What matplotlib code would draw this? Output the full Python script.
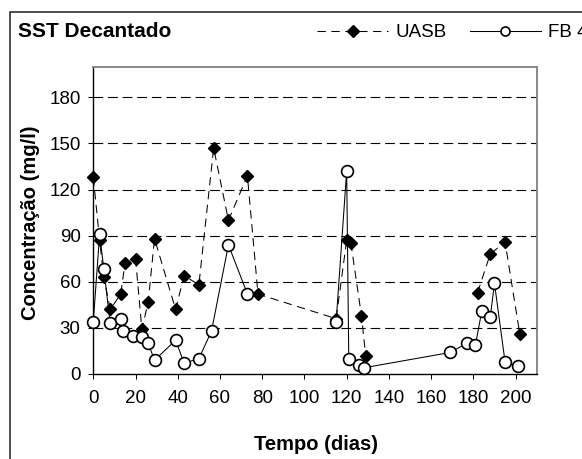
import numpy as np
import matplotlib
matplotlib.use("Agg")
import matplotlib.pyplot as plt
from matplotlib.lines import Line2D
from matplotlib.patches import Rectangle

plt.rcParams['font.family'] = ['Liberation Sans', 'DejaVu Sans']
plt.rcParams['lines.scale_dashes'] = False

# dados (tempo em dias, SST em mg/l)
dias_uasb = [0, 3, 5, 8, 13, 15, 20, 23, 26, 29, 39, 43, 50, 57, 64, 73, 78,
             115, 120, 122, 127, 129, 169, 182, 188, 195, 202]
sst_uasb = [128, 87, 63, 42, 52, 72, 75, 29, 47, 88, 42, 64, 58, 147, 100, 129, 52,
            36, 87, 85, 38, 12, np.nan, 53, 78, 86, 26]

dias_fb4 = [0, 3, 5, 8, 13, 14, 19, 23, 26, 29, 39, 43, 50, 56, 64, 73, 78,
            115, 120, 121, 126, 128, 169, 177, 181, 184, 188, 190, 195, 201]
sst_fb4 = [34, 91, 68, 33, 36, 28, 25, 24, 20, 9, 22, 7, 10, 28, 84, 52, np.nan,
           34, 132, 10, 6, 4, 14, 20, 19, 41, 37, 59, 8, 5]

x_ticks = list(range(0, 201, 20))
y_ticks = list(range(0, 181, 30))

fig = plt.figure(figsize=(5.82, 4.59), dpi=100)
ax = fig.add_axes([93.3 / 582, 1 - 374 / 459, (536.7 - 93.3) / 582, (374 - 66.6) / 459])

# grade tracejada
for y in y_ticks[1:]:
    ax.axhline(y, color='black', lw=0.8, linestyle=(0, (7, 3.5)), zorder=1)

ax.plot(dias_uasb, sst_uasb, color='black', lw=0.75, linestyle=(0, (6, 4)),
        marker='D', markersize=6.5, markerfacecolor='black', markeredgecolor='black',
        clip_on=False, zorder=3)
ax.plot(dias_fb4, sst_fb4, color='black', lw=0.75, linestyle='-',
        marker='o', markersize=8.5, markerfacecolor='white', markeredgecolor='black',
        markeredgewidth=1.2, clip_on=False, zorder=4)

ax.set_xlim(0, 210)
ax.set_ylim(0, 200)
ax.set_xticks(x_ticks)
ax.set_yticks(y_ticks)
ax.tick_params(axis='both', direction='out', length=3.6, width=0.75, labelsize=13.5)
ax.tick_params(axis='x', pad=8)
ax.tick_params(axis='y', pad=5.5)

for s in ['left', 'bottom']:
    ax.spines[s].set_color('black')
    ax.spines[s].set_linewidth(1.0)
for s in ['top', 'right']:
    ax.spines[s].set_color('#808080')
    ax.spines[s].set_linewidth(1.3)

# textos
fig.text(18 / 582, 1 - 31.7 / 459, 'SST Decantado', fontsize=15, fontweight='bold',
         ha='left', va='center')
fig.text(316 / 582, 1 - 445 / 459, 'Tempo (dias)', fontsize=14.5, fontweight='bold',
         ha='center', va='center')
fig.text(31 / 582, 1 - 223 / 459, 'Concentração (mg/l)', fontsize=14.5, fontweight='bold',
         ha='center', va='center', rotation=90)

# legenda
h_uasb = Line2D([], [], color='black', lw=0.75, linestyle=(0, (6, 4)), marker='D',
                markersize=6, markerfacecolor='black', markeredgecolor='black')
h_fb4 = Line2D([], [], color='black', lw=0.75, linestyle='-', marker='o',
               markersize=6.5, markerfacecolor='white', markeredgecolor='black',
               markeredgewidth=1.2)
fig.legend([h_uasb, h_fb4], ['UASB', 'FB 4'], ncol=2, frameon=False, fontsize=13.5,
           loc='center left', bbox_to_anchor=(317 / 582, 1 - 32.7 / 459),
           borderpad=0, borderaxespad=0, handlelength=3.8, handletextpad=0.37,
           columnspacing=1.23, numpoints=1)

# moldura externa
fig.patches.append(Rectangle((10 / 582, -0.1), 1.2, 1 - 12.5 / 459 + 0.1,
                             transform=fig.transFigure, fill=False,
                             edgecolor='#303030', lw=1.2))

fig.savefig('out.png', dpi=100)
